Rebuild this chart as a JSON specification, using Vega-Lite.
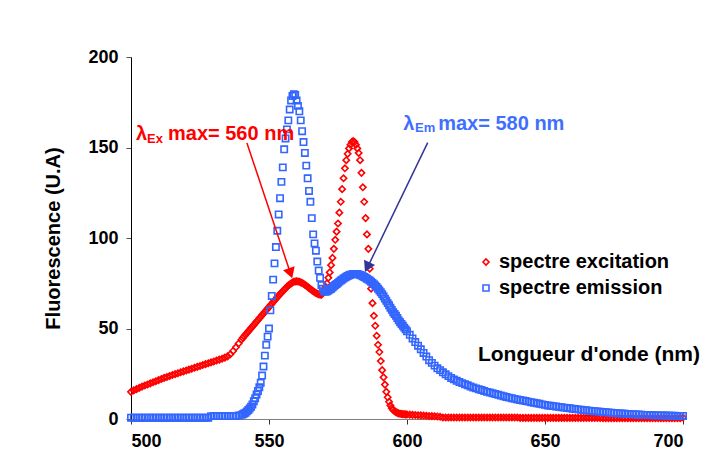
{
  "$schema": "https://vega.github.io/schema/vega-lite/v6.json",
  "autosize": {"type": "none"},
  "padding": {"left": 131, "top": 57, "right": 25, "bottom": 49},
  "width": 552,
  "height": 362,
  "background": "white",
  "config": {
    "view": {"stroke": null},
    "font": "Liberation Sans",
    "axis": {"grid": false, "labelFont": "Liberation Sans", "labelFontWeight": "bold", "labelFontSize": 18, "labelColor": "black", "titleFont": "Liberation Sans", "titleFontWeight": "bold", "titleColor": "black"}
  },
  "datasets": {
    "spectra": [
{"w":500,"ex":15,"em":0.7},{"w":501,"ex":15.8,"em":0.7},{"w":502,"ex":16.5,"em":0.7},{"w":503,"ex":17.2,"em":0.7},{"w":504,"ex":17.9,"em":0.7},{"w":505,"ex":18.5,"em":0.7},{"w":506,"ex":19.1,"em":0.7},{"w":507,"ex":19.7,"em":0.7},{"w":508,"ex":20.3,"em":0.7},{"w":509,"ex":20.9,"em":0.7},
{"w":510,"ex":21.5,"em":0.7},{"w":511,"ex":22.1,"em":0.7},{"w":512,"ex":22.7,"em":0.7},{"w":513,"ex":23.2,"em":0.7},{"w":514,"ex":23.8,"em":0.7},{"w":515,"ex":24.3,"em":0.7},{"w":516,"ex":24.8,"em":0.7},{"w":517,"ex":25.3,"em":0.7},{"w":518,"ex":25.8,"em":0.7},{"w":519,"ex":26.3,"em":0.7},
{"w":520,"ex":26.8,"em":0.7},{"w":521,"ex":27.3,"em":0.7},{"w":522,"ex":27.8,"em":0.7},{"w":523,"ex":28.3,"em":0.7},{"w":524,"ex":28.8,"em":0.7},{"w":525,"ex":29.3,"em":0.7},{"w":526,"ex":29.8,"em":0.7},{"w":527,"ex":30.3,"em":0.7},{"w":528,"ex":30.8,"em":0.7},{"w":529,"ex":31.3,"em":1.6},
{"w":530,"ex":31.8,"em":1.6},{"w":531,"ex":32.3,"em":1.6},{"w":532,"ex":32.8,"em":1.6},{"w":533,"ex":33.3,"em":1.6},{"w":534,"ex":33.9,"em":1.6},{"w":535,"ex":34.6,"em":1.6},{"w":536,"ex":35.8,"em":1.6},{"w":537,"ex":37.6,"em":1.6},{"w":538,"ex":39.6,"em":1.6},{"w":539,"ex":41.7,"em":1.9},
{"w":540,"ex":43.8,"em":2.3},{"w":540.5,"ex":44.8,"em":2.6},{"w":541,"ex":45.7,"em":3.0},{"w":541.5,"ex":46.6,"em":3.5},{"w":542,"ex":47.5,"em":4.2},{"w":542.5,"ex":48.4,"em":5.0},{"w":543,"ex":49.3,"em":5.8},{"w":543.5,"ex":50.2,"em":6.8},{"w":544,"ex":51.1,"em":8.0},{"w":544.5,"ex":52,"em":9.8},
{"w":545,"ex":52.9,"em":11.5},{"w":545.5,"ex":53.8,"em":13.5},{"w":546,"ex":54.7,"em":15.5},{"w":546.5,"ex":55.6,"em":17.5},{"w":547,"ex":56.5,"em":20},{"w":547.5,"ex":57.4,"em":24},{"w":548,"ex":58.3,"em":29},{"w":548.5,"ex":59.2,"em":35},{"w":549,"ex":60.1,"em":41},{"w":549.5,"ex":61,"em":45.5},
{"w":550,"ex":61.9,"em":50},{"w":550.5,"ex":62.8,"em":60},{"w":551,"ex":63.7,"em":68},{"w":551.5,"ex":64.6,"em":77},{"w":552,"ex":65.5,"em":86},{"w":552.5,"ex":66.4,"em":95},{"w":553,"ex":67.3,"em":104},{"w":553.5,"ex":68.1,"em":113},{"w":554,"ex":69,"em":122},{"w":554.5,"ex":69.8,"em":131},
{"w":555,"ex":70.6,"em":139},{"w":555.5,"ex":71.4,"em":149},{"w":556,"ex":72.2,"em":155},{"w":556.5,"ex":73,"em":160},{"w":557,"ex":73.7,"em":165},{"w":557.5,"ex":74.3,"em":171},{"w":558,"ex":74.9,"em":176},{"w":558.5,"ex":75.4,"em":178.5},{"w":559,"ex":75.8,"em":179.5},{"w":559.5,"ex":76,"em":179},
{"w":560,"ex":76.1,"em":176},{"w":560.5,"ex":76,"em":173},{"w":561,"ex":75.8,"em":170},{"w":561.5,"ex":75.5,"em":165},{"w":562,"ex":75.1,"em":159},{"w":562.5,"ex":74.7,"em":153},{"w":563,"ex":74.2,"em":147},{"w":563.5,"ex":73.6,"em":140},{"w":564,"ex":73,"em":133},{"w":564.5,"ex":72.4,"em":126},
{"w":565,"ex":71.8,"em":120},{"w":565.5,"ex":71.2,"em":111},{"w":566,"ex":70.6,"em":102},{"w":566.5,"ex":70.1,"em":97},{"w":567,"ex":69.6,"em":93},{"w":567.5,"ex":69.2,"em":87},{"w":568,"ex":68.9,"em":82},{"w":568.5,"ex":68.7,"em":78},{"w":569,"ex":68.7,"em":74},{"w":569.5,"ex":69.5,"em":72},
{"w":570,"ex":71,"em":70.5},{"w":570.5,"ex":73,"em":70.3},{"w":571,"ex":75,"em":70.5},{"w":571.5,"ex":78,"em":71},{"w":572,"ex":81,"em":71.5},{"w":572.5,"ex":85,"em":72},{"w":573,"ex":89,"em":72.6},{"w":573.5,"ex":94,"em":73.3},{"w":574,"ex":99,"em":74},{"w":574.5,"ex":103.5,"em":74.6},
{"w":575,"ex":108,"em":75.2},{"w":575.5,"ex":114,"em":75.9},{"w":576,"ex":120,"em":76.5},{"w":576.5,"ex":127,"em":77},{"w":577,"ex":133,"em":77.6},{"w":577.5,"ex":138.5,"em":78.1},{"w":578,"ex":143,"em":78.6},{"w":578.5,"ex":146.5,"em":79},{"w":579,"ex":149.5,"em":79.4},{"w":579.5,"ex":151.5,"em":79.7},
{"w":580,"ex":153,"em":79.9},{"w":580.5,"ex":153.5,"em":80.1},{"w":581,"ex":153,"em":80.2},{"w":581.5,"ex":151.5,"em":80.2},{"w":582,"ex":149.5,"em":80.1},{"w":582.5,"ex":147,"em":79.9},{"w":583,"ex":143,"em":79.6},{"w":583.5,"ex":136,"em":79.3},{"w":584,"ex":128,"em":78.9},{"w":584.5,"ex":120,"em":78.5},
{"w":585,"ex":111,"em":78},{"w":585.5,"ex":102,"em":77.5},{"w":586,"ex":94,"em":77},{"w":586.5,"ex":83,"em":76.5},{"w":587,"ex":72,"em":75.8},{"w":587.5,"ex":64,"em":75.2},{"w":588,"ex":57,"em":74.5},{"w":588.5,"ex":51.5,"em":73.8},{"w":589,"ex":46,"em":73},{"w":589.5,"ex":41,"em":72},
{"w":590,"ex":37,"em":71},{"w":590.5,"ex":32,"em":70},{"w":591,"ex":27,"em":69},{"w":591.5,"ex":23,"em":67.8},{"w":592,"ex":19,"em":66.5},{"w":592.5,"ex":15,"em":65.3},{"w":593,"ex":12,"em":64},{"w":593.5,"ex":9.5,"em":62.8},{"w":594,"ex":7.5,"em":61.5},{"w":594.5,"ex":6,"em":60.3},
{"w":595,"ex":5,"em":59},{"w":595.5,"ex":4.3,"em":58},{"w":596,"ex":3.8,"em":57},{"w":596.5,"ex":3.4,"em":55.8},{"w":597,"ex":3.1,"em":54.5},{"w":597.5,"ex":2.9,"em":53.5},{"w":598,"ex":2.8,"em":52.5},{"w":598.5,"ex":2.7,"em":51.5},{"w":599,"ex":2.6,"em":50.5},{"w":599.5,"ex":2.55,"em":49.5},
{"w":600,"ex":2.5,"em":48.5},{"w":601,"ex":2.4,"em":46.5},{"w":602,"ex":2.3,"em":44.5},{"w":603,"ex":2.2,"em":42.5},{"w":604,"ex":2.1,"em":40.5},{"w":605,"ex":2.0,"em":38.5},{"w":606,"ex":1.9,"em":36.5},{"w":607,"ex":1.8,"em":34.5},{"w":608,"ex":1.7,"em":32.5},{"w":609,"ex":1.6,"em":31},
{"w":610,"ex":1.5,"em":29.5},{"w":611,"ex":1.4,"em":28},{"w":612,"ex":1.2,"em":27},{"w":613,"ex":0.8,"em":25.8},{"w":614,"ex":0.8,"em":24.7},{"w":615,"ex":0.8,"em":23.7},{"w":616,"ex":0.8,"em":22.7},{"w":617,"ex":0.8,"em":21.9},{"w":618,"ex":0.8,"em":21.1},{"w":619,"ex":0.8,"em":20.4},
{"w":620,"ex":0.8,"em":19.8},{"w":621,"ex":0.8,"em":19.2},{"w":622,"ex":0.8,"em":18.6},{"w":623,"ex":0.8,"em":18},{"w":624,"ex":0.8,"em":17.4},{"w":625,"ex":0.8,"em":16.9},{"w":626,"ex":0.8,"em":16.4},{"w":627,"ex":0.8,"em":16},{"w":628,"ex":0.8,"em":15.5},{"w":629,"ex":0.8,"em":15},
{"w":630,"ex":0.8,"em":14.6},{"w":631,"ex":0.8,"em":14.2},{"w":632,"ex":0.8,"em":13.8},{"w":633,"ex":0.8,"em":13.4},{"w":634,"ex":0.8,"em":13},{"w":635,"ex":0.8,"em":12.6},{"w":636,"ex":0.8,"em":12.2},{"w":637,"ex":0.8,"em":11.8},{"w":638,"ex":0.8,"em":11.5},{"w":639,"ex":0.8,"em":11.1},
{"w":640,"ex":0.8,"em":10.8},{"w":641,"ex":0.6,"em":10.5},{"w":642,"ex":0.6,"em":10.2},{"w":643,"ex":0.6,"em":9.9},{"w":644,"ex":0.6,"em":9.6},{"w":645,"ex":0.6,"em":9.3},{"w":646,"ex":0.6,"em":9},{"w":647,"ex":0.6,"em":8.7},{"w":648,"ex":0.6,"em":8.4},{"w":649,"ex":0.6,"em":8.1},
{"w":650,"ex":0.6,"em":7.8},{"w":651,"ex":0.6,"em":7.5},{"w":652,"ex":0.6,"em":7.3},{"w":653,"ex":0.6,"em":7.1},{"w":654,"ex":0.6,"em":6.9},{"w":655,"ex":0.6,"em":6.7},{"w":656,"ex":0.6,"em":6.5},{"w":657,"ex":0.6,"em":6.3},{"w":658,"ex":0.6,"em":6.1},{"w":659,"ex":0.6,"em":5.9},
{"w":660,"ex":0.6,"em":5.7},{"w":661,"ex":0.6,"em":5.5},{"w":662,"ex":0.6,"em":5.3},{"w":663,"ex":0.6,"em":5.1},{"w":664,"ex":0.6,"em":4.9},{"w":665,"ex":0.6,"em":4.8},{"w":666,"ex":0.6,"em":4.6},{"w":667,"ex":0.6,"em":4.5},{"w":668,"ex":0.6,"em":4.3},{"w":669,"ex":0.6,"em":4.2},
{"w":670,"ex":0.6,"em":4.0},{"w":671,"ex":0.4,"em":3.9},{"w":672,"ex":0.4,"em":3.8},{"w":673,"ex":0.4,"em":3.6},{"w":674,"ex":0.4,"em":3.5},{"w":675,"ex":0.4,"em":3.4},{"w":676,"ex":0.4,"em":3.2},{"w":677,"ex":0.4,"em":3.1},{"w":678,"ex":0.4,"em":3.0},{"w":679,"ex":0.4,"em":2.9},
{"w":680,"ex":0.4,"em":2.8},{"w":681,"ex":0.4,"em":2.7},{"w":682,"ex":0.4,"em":2.6},{"w":683,"ex":0.4,"em":2.5},{"w":684,"ex":0.4,"em":2.5},{"w":685,"ex":0.4,"em":2.4},{"w":686,"ex":0.4,"em":2.3},{"w":687,"ex":0.4,"em":2.3},{"w":688,"ex":0.4,"em":2.2},{"w":689,"ex":0.4,"em":2.1},
{"w":690,"ex":0.4,"em":2.1},{"w":691,"ex":0.4,"em":2.0},{"w":692,"ex":0.4,"em":2.0},{"w":693,"ex":0.4,"em":1.9},{"w":694,"ex":0.4,"em":1.9},{"w":695,"ex":0.4,"em":1.8},{"w":696,"ex":0.4,"em":1.8},{"w":697,"ex":0.4,"em":1.8},{"w":698,"ex":0.4,"em":1.7},{"w":699,"ex":0.4,"em":1.7},
{"w":700,"ex":0.8,"em":1.7}
    ],
    "redBig": [{"x": 501.8, "y": 154.1, "t": "λ"}, {"x": 513.4, "y": 154.1, "t": "max= 560 nm"}],
    "redSub": [{"x": 505.8, "y": 152.6, "t": "Ex"}],
    "blueBig": [{"x": 598.6, "y": 159.8, "t": "λ"}, {"x": 611.3, "y": 159.8, "t": "max= 580 nm"}],
    "blueSub": [{"x": 602.9, "y": 158.3, "t": "Em"}],
    "xTitle": [{"x": 625.7, "y": 35.4, "t": "Longueur d'onde (nm)"}],
    "redArrow": [{"x": 542.0, "y": 152.5, "x2": 557.9, "y2": 80}],
    "redHead": [{"x": 557.8, "y": 80.5}],
    "blueArrow": [{"x": 607.5, "y": 152.7, "x2": 585.6, "y2": 83.5}],
    "blueHead": [{"x": 585.6, "y": 83.9}]
  },
  "layer": [
    {
      "data": {"name": "spectra"},
      "transform": [{"fold": ["ex", "em"], "as": ["serie", "f"]}],
      "mark": {"type": "point", "filled": false, "strokeWidth": 1.6, "opacity": 1},
      "encoding": {
        "x": {"field": "w", "type": "quantitative", "scale": {"domain": [500, 700], "nice": false, "zero": false},
              "axis": {"values": [500, 550, 600, 650, 700], "title": null, "domainColor": "#808080", "tickColor": "#333333", "tickSize": 5, "labelPadding": 8}},
        "y": {"field": "f", "type": "quantitative", "scale": {"domain": [0, 200], "nice": false},
              "axis": {"values": [0, 50, 100, 150, 200], "title": "Fluorescence (U.A)", "titleFontSize": 20, "titlePadding": 24, "domainColor": "black", "tickColor": "#555555", "tickSize": 5, "labelPadding": 8}},
        "color": {"field": "serie", "type": "nominal", "scale": {"domain": ["ex", "em"], "range": ["#FF0000", "#3366FF"]},
                  "legend": {"orient": "none", "legendX": 345, "legendY": 195, "title": null, "padding": 0, "rowPadding": 6, "labelFont": "Liberation Sans", "labelFontWeight": "bold", "labelFontSize": 20, "labelColor": "black", "labelOffset": 3, "labelLimit": 400, "symbolSize": 36, "symbolStrokeWidth": 1.6,
                             "labelExpr": "datum.value == 'ex' ? 'spectre excitation' : 'spectre emission'"}},
        "shape": {"field": "serie", "type": "nominal", "scale": {"domain": ["ex", "em"], "range": ["diamond", "square"]}},
        "size": {"value": 40},
        "order": {"field": "serie", "sort": "descending"}
      }
    },
    {
      "data": {"name": "redArrow"},
      "mark": {"type": "rule", "color": "#FF0000", "strokeWidth": 1.5},
      "encoding": {"x": {"field": "x", "type": "quantitative"}, "y": {"field": "y", "type": "quantitative"}, "x2": {"field": "x2"}, "y2": {"field": "y2"}}
    },
    {
      "data": {"name": "redHead"},
      "mark": {"type": "point", "shape": "triangle-up", "filled": true, "color": "#FF0000", "size": 150, "angle": 161.6, "opacity": 1},
      "encoding": {"x": {"field": "x", "type": "quantitative"}, "y": {"field": "y", "type": "quantitative"}}
    },
    {
      "data": {"name": "blueArrow"},
      "mark": {"type": "rule", "color": "#333399", "strokeWidth": 1.5},
      "encoding": {"x": {"field": "x", "type": "quantitative"}, "y": {"field": "y", "type": "quantitative"}, "x2": {"field": "x2"}, "y2": {"field": "y2"}}
    },
    {
      "data": {"name": "blueHead"},
      "mark": {"type": "point", "shape": "triangle-up", "filled": true, "color": "#333399", "size": 150, "angle": 205.9, "opacity": 1},
      "encoding": {"x": {"field": "x", "type": "quantitative"}, "y": {"field": "y", "type": "quantitative"}}
    },
    {
      "data": {"name": "redBig"},
      "mark": {"type": "text", "align": "left", "baseline": "alphabetic", "font": "Liberation Sans", "fontWeight": "bold", "fontSize": 20, "color": "#FF0000"},
      "encoding": {"x": {"field": "x", "type": "quantitative"}, "y": {"field": "y", "type": "quantitative"}, "text": {"field": "t"}}
    },
    {
      "data": {"name": "redSub"},
      "mark": {"type": "text", "align": "left", "baseline": "alphabetic", "font": "Liberation Sans", "fontWeight": "bold", "fontSize": 13, "color": "#FF0000"},
      "encoding": {"x": {"field": "x", "type": "quantitative"}, "y": {"field": "y", "type": "quantitative"}, "text": {"field": "t"}}
    },
    {
      "data": {"name": "blueBig"},
      "mark": {"type": "text", "align": "left", "baseline": "alphabetic", "font": "Liberation Sans", "fontWeight": "bold", "fontSize": 20, "color": "#3F6FFF"},
      "encoding": {"x": {"field": "x", "type": "quantitative"}, "y": {"field": "y", "type": "quantitative"}, "text": {"field": "t"}}
    },
    {
      "data": {"name": "blueSub"},
      "mark": {"type": "text", "align": "left", "baseline": "alphabetic", "font": "Liberation Sans", "fontWeight": "bold", "fontSize": 13, "color": "#3F6FFF"},
      "encoding": {"x": {"field": "x", "type": "quantitative"}, "y": {"field": "y", "type": "quantitative"}, "text": {"field": "t"}}
    },
    {
      "data": {"name": "xTitle"},
      "mark": {"type": "text", "align": "left", "baseline": "middle", "font": "Liberation Sans", "fontWeight": "bold", "fontSize": 21, "color": "black"},
      "encoding": {"x": {"field": "x", "type": "quantitative"}, "y": {"field": "y", "type": "quantitative"}, "text": {"field": "t"}}
    }
  ]
}
